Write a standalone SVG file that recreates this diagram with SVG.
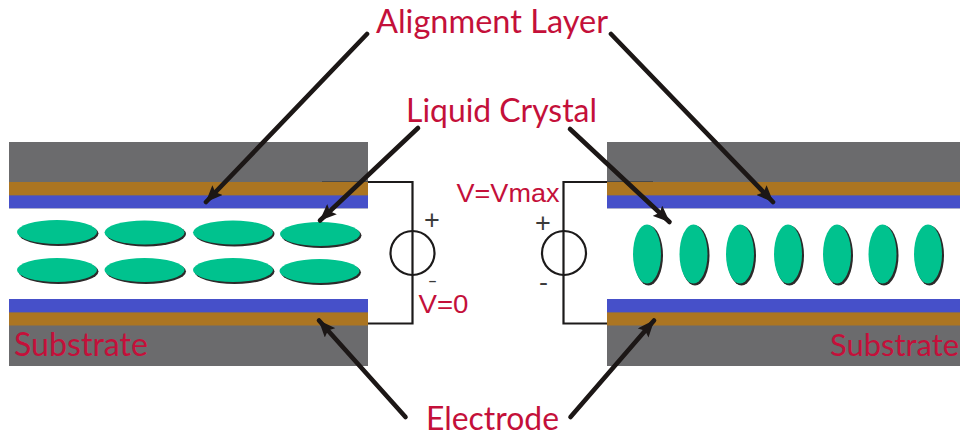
<svg xmlns="http://www.w3.org/2000/svg" width="960" height="437" viewBox="0 0 960 437">
<style>
.t{font-family:Lato,"Liberation Sans",sans-serif;fill:#c4103a;font-size:32px}
.v{font-family:"Liberation Sans",sans-serif;fill:#c4103a;font-size:26px}
.p{font-family:"Liberation Sans",sans-serif;fill:#3a3a3a;font-size:27px}
.w{fill:none;stroke:#1c1a1a;stroke-width:2.2}
.a{stroke:#1c1716;stroke-width:4.6;fill:none;stroke-linecap:round;marker-end:url(#h)}
.e{fill:#00c28e}
.s{fill:#2c2a2a}
.thin{stroke:#4a4a4a;stroke-width:1.2;fill:none}
.g{fill:#6b6b6d}
.b{fill:#ab7522}
.u{fill:#4650c9}
</style>
<defs>
<marker id="h" markerUnits="userSpaceOnUse" viewBox="0 0 17 14" refX="16.500" refY="7" markerWidth="17" markerHeight="14" orient="auto"><path d="M0 0L17 7L0 14L3 7Z" fill="#1c1716"/></marker>
</defs>
<rect width="960" height="437" fill="#fff"/>
<g id="cell-left">
<rect class="g" x="9" y="142" width="359" height="224"/>
<rect class="b" x="9" y="182" width="359" height="13.500"/>
<rect class="u" x="9" y="195.500" width="359" height="13"/>
<rect x="9" y="208.500" width="359" height="90.500" fill="#fff"/>
<rect class="u" x="9" y="299" width="359" height="13.500"/>
<rect class="b" x="9" y="312.500" width="359" height="13"/>
<path class="thin" d="M322 181.500H368"/>
</g>
<g id="cell-right">
<rect class="g" x="607" y="142" width="353" height="224"/>
<rect class="b" x="607" y="182" width="353" height="13.500"/>
<rect class="u" x="607" y="195.500" width="353" height="13"/>
<rect x="607" y="208.500" width="353" height="90.500" fill="#fff"/>
<rect class="u" x="607" y="299" width="353" height="13.500"/>
<rect class="b" x="607" y="312.500" width="353" height="13"/>
<path class="thin" d="M607 181.500H653"/>
</g>
<g id="crystals-left">
<ellipse class="s" cx="58.500" cy="233.500" rx="40" ry="12.500"/><ellipse class="e" cx="57" cy="232" rx="40" ry="12"/>
<ellipse class="s" cx="146" cy="234" rx="40" ry="12.500"/><ellipse class="e" cx="144.500" cy="232.500" rx="40" ry="12"/>
<ellipse class="s" cx="234.500" cy="234" rx="40" ry="12.500"/><ellipse class="e" cx="233" cy="232.500" rx="40" ry="12"/>
<ellipse class="s" cx="321.500" cy="235.500" rx="40" ry="12.500"/><ellipse class="e" cx="320" cy="234" rx="40" ry="12"/>
<ellipse class="s" cx="58.500" cy="271.500" rx="40" ry="12.500"/><ellipse class="e" cx="57" cy="270" rx="40" ry="12"/>
<ellipse class="s" cx="146" cy="271.500" rx="40" ry="12.500"/><ellipse class="e" cx="144.500" cy="270" rx="40" ry="12"/>
<ellipse class="s" cx="234.500" cy="271.500" rx="40" ry="12.500"/><ellipse class="e" cx="233" cy="270" rx="40" ry="12"/>
<ellipse class="s" cx="321" cy="272.500" rx="40" ry="12.500"/><ellipse class="e" cx="319.500" cy="271" rx="40" ry="12"/>
</g>
<g id="crystals-right">
<ellipse class="s" cx="648.500" cy="255.500" rx="14.500" ry="30"/><ellipse class="e" cx="647" cy="254" rx="14" ry="29.500"/>
<ellipse class="s" cx="695" cy="255.500" rx="14.500" ry="30"/><ellipse class="e" cx="693.500" cy="254" rx="14" ry="29.500"/>
<ellipse class="s" cx="741.500" cy="255.500" rx="14.500" ry="30"/><ellipse class="e" cx="740" cy="254" rx="14" ry="29.500"/>
<ellipse class="s" cx="789.500" cy="255.500" rx="14.500" ry="30"/><ellipse class="e" cx="788" cy="254" rx="14" ry="29.500"/>
<ellipse class="s" cx="838.500" cy="255.500" rx="14.500" ry="30"/><ellipse class="e" cx="837" cy="254" rx="14" ry="29.500"/>
<ellipse class="s" cx="884" cy="255.500" rx="14.500" ry="30"/><ellipse class="e" cx="882.500" cy="254" rx="14" ry="29.500"/>
<ellipse class="s" cx="929.500" cy="255.500" rx="14.500" ry="30"/><ellipse class="e" cx="928" cy="254" rx="14" ry="29.500"/>
</g>
<g id="source-left">
<path class="w" d="M368 182H412.500V323.500H368"/>
<circle class="w" cx="412.500" cy="253" r="22"/>
<text class="p" x="424" y="229">+</text>
<text class="p" x="428" y="286" style="font-size:16px" textLength="9" lengthAdjust="spacingAndGlyphs">-</text>
</g>
<g id="source-right">
<path class="w" d="M607 182H563.500V323.500H607"/>
<circle class="w" cx="564" cy="253" r="22"/>
<text class="p" x="535" y="232">+</text>
<text class="p" x="539" y="290" style="font-size:24px" textLength="9" lengthAdjust="spacingAndGlyphs">-</text>
</g>
<g id="connectors">
<path class="a" d="M367 34L206 202"/>
<path class="a" d="M418 128L320 220.500"/>
<path class="a" d="M611 34L773 202"/>
<path class="a" d="M570 129L669.500 222"/>
<path class="a" d="M405.500 417L319 320.500"/>
<path class="a" d="M570.500 417L654 320.500"/>
</g>
<g id="labels">
<text class="t" x="376" y="33" textLength="232" lengthAdjust="spacingAndGlyphs">Alignment Layer</text>
<text class="t" x="406" y="122" textLength="191" lengthAdjust="spacingAndGlyphs">Liquid Crystal</text>
<text class="t" x="426" y="430" textLength="133" lengthAdjust="spacingAndGlyphs">Electrode</text>
<text class="v" x="456.500" y="201.500" textLength="103" lengthAdjust="spacingAndGlyphs">V=Vmax</text>
<text class="v" x="418.500" y="313" textLength="50" lengthAdjust="spacingAndGlyphs">V=0</text>
<text class="t" x="14" y="356" textLength="134" lengthAdjust="spacingAndGlyphs">Substrate</text>
<text class="t" x="830" y="356" style="font-size:30px" textLength="129" lengthAdjust="spacingAndGlyphs">Substrate</text>
</g>
</svg>
